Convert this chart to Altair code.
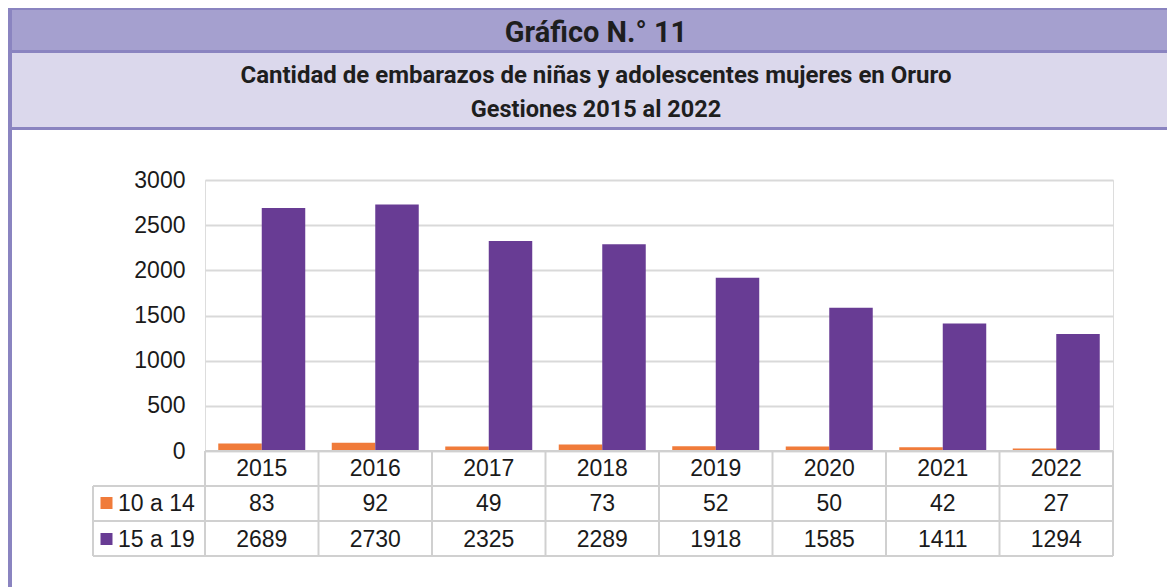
import altair as alt
import pandas as pd

# ---- data ----
years = ["2015", "2016", "2017", "2018", "2019", "2020", "2021", "2022"]
grupos = ["10 a 14", "15 a 19"]
valores_10_14 = [83, 92, 49, 73, 52, 50, 42, 27]
valores_15_19 = [2689, 2730, 2325, 2289, 1918, 1585, 1411, 1294]
y_ticks = [0, 500, 1000, 1500, 2000, 2500, 3000]
titulo = "Gráfico N.° 11"
subtitulo1 = "Cantidad de embarazos de niñas y adolescentes mujeres en Oruro"
subtitulo2 = "Gestiones 2015 al 2022"

colores = ["#F07B3A", "#683C94"]

rows = []
for g, vals in zip(grupos, [valores_10_14, valores_15_19]):
    for y, v in zip(years, vals):
        rows.append({"year": y, "grupo": g, "valor": v})
df = pd.DataFrame(rows)
df_years = pd.DataFrame({"year": years})
one = alt.Data(values=[{}])

W, H = 908, 271
FONT = "Liberation Sans"
HFONT = "Roboto"
LINE = "#D0D0D0"

xscale = alt.Scale(domain=years, paddingInner=0, paddingOuter=0)

def rect(x, x2, y, y2, color):
    return alt.Chart(one).mark_rect(color=color).encode(
        x=alt.value(x), x2=alt.value(x2), y=alt.value(y), y2=alt.value(y2))

def hrule(x, x2, y):
    return alt.Chart(one).mark_rule(color=LINE, strokeWidth=2).encode(
        x=alt.value(x), x2=alt.value(x2), y=alt.value(y))

def htext(txt, y, size):
    return alt.Chart(one).mark_text(
        text=txt, font=HFONT, fontWeight="bold", fontSize=size, color="#1E1E1E",
        align="center", baseline="middle").encode(x=alt.value(391), y=alt.value(y))

# header
header = [
    rect(-197, 1000, -175, -50, "#8A84C0"),
    rect(-193, 1000, -170, -130, "#A5A0CF"),
    rect(-193, 1000, -127, -53, "#DBD8EC"),
    rect(-197, -193, -175, 410, "#8A84C0"),
    htext(titulo, -147, 29),
    htext(subtitulo1, -104, 24),
    htext(subtitulo2, -70, 23.5),
]

bars = alt.Chart(df).mark_bar().encode(
    x=alt.X("year:N", scale=xscale, axis=None),
    xOffset=alt.XOffset("grupo:N", scale=alt.Scale(domain=grupos, paddingInner=0, paddingOuter=0.3046)),
    y=alt.Y("valor:Q", scale=alt.Scale(domain=[0, 3000], nice=False),
            axis=alt.Axis(values=y_ticks, format="d", title=None, grid=True, gridColor="#D9D9D9",
                          gridWidth=2, domain=False, ticks=False, labelPadding=20,
                          labelFont=FONT, labelFontSize=23, labelColor="#1A1A1A")),
    color=alt.Color("grupo:N", scale=alt.Scale(domain=grupos, range=colores), legend=None),
)

# table lines
table_lines = [
    hrule(0, W, 271),
    hrule(-112, W, 306),
    hrule(-112, W, 341),
    hrule(-112, W, 376),
    alt.Chart(one).mark_rule(color=LINE, strokeWidth=2).encode(
        x=alt.value(-112), y=alt.value(306), y2=alt.value(376)),
    alt.Chart(df_years).mark_rule(color=LINE, strokeWidth=2).encode(
        x=alt.X("year:N", scale=xscale, bandPosition=0, axis=None),
        y=alt.value(271), y2=alt.value(376)),
    alt.Chart(df_years).transform_filter(alt.datum.year == years[-1]).mark_rule(
        color=LINE, strokeWidth=2).encode(
        x=alt.X("year:N", scale=xscale, bandPosition=1, axis=None),
        y=alt.value(271), y2=alt.value(376)),
]

def ttext(data, field, y):
    return data.mark_text(font=FONT, fontSize=23, color="#1A1A1A",
                          align="center", baseline="middle").encode(
        x=alt.X("year:N", scale=xscale, axis=None), y=alt.value(y), text=field)

table_text = [
    ttext(alt.Chart(df_years), "year:N", 289),
    ttext(alt.Chart(df).transform_filter(alt.datum.grupo == grupos[0]), "valor:Q", 324),
    ttext(alt.Chart(df).transform_filter(alt.datum.grupo == grupos[1]), "valor:Q", 359.5),
]

legend = []
for g, c, yy in zip(grupos, colores, [323, 359]):
    legend.append(alt.Chart(one).mark_square(color=c, size=144, opacity=1, filled=True).encode(
        x=alt.value(-98.5), y=alt.value(yy)))
    legend.append(alt.Chart(one).mark_text(text=g, font=FONT, fontSize=23, color="#1A1A1A",
                                           align="left", baseline="middle").encode(
        x=alt.value(-87), y=alt.value(yy + 1)))

chart = alt.layer(*header, bars, *table_lines, *table_text, *legend).properties(
    width=W, height=H,
    autosize=alt.AutoSizeParams(type="none"),
    padding={"left": 197, "top": 172, "right": 54, "bottom": 136},
).configure_view(stroke=None).configure(background="white")

chart.save("out.html", embed_options={"renderer": "svg", "actions": False})
